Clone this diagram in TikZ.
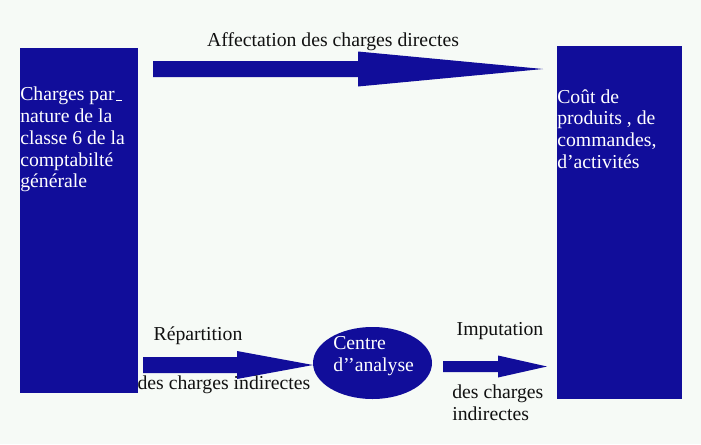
\documentclass[tikz,border=0pt]{standalone}
\usepackage{fontspec}
\setmainfont{Liberation Serif}
\usetikzlibrary{shapes.geometric}
\definecolor{paper}{HTML}{F6FAF6}
\definecolor{navy}{HTML}{110D9A}
\definecolor{ink}{HTML}{111111}
% fat arrow: y centre, x start, x head base, x tip, shaft half, head half
\newcommand{\fatarrow}[6]{%
  \fill[navy] (#2,#1-#5) -- (#3,#1-#5) -- (#3,#1-#6) -- (#4,#1)
    -- (#3,#1+#6) -- (#3,#1+#5) -- (#2,#1+#5) -- cycle;}
\tikzset{
  font=\fontsize{14.8}{16.3}\selectfont,
  %
  pillar/.style={fill=navy, draw=none, inner sep=0pt, anchor=north west},
  hub/.style={ellipse, fill=navy, draw=none, inner sep=0pt,
              minimum width=89.25pt, minimum height=54pt},
  %
  inbox/.style={text=white, align=left, inner sep=0pt, anchor=north west},
  lbl/.style={text=ink, inner sep=0pt},
}
\begin{document}
\begin{tikzpicture}[x=0.75pt, y=-0.75pt]

  \fill[paper] (0,0) rectangle (701,444);
  \useasboundingbox (0,0) rectangle (701,444);

  % --- the two blocks ----------------------------------------------------
  \node[pillar, minimum width=88.5pt, minimum height=258.75pt] (nature) at (20,48) {};
  \node[pillar, minimum width=93.75pt, minimum height=264.75pt] (cout) at (557,46) {};

  \node[inbox] (natxt) at (20,87)
    {Charges par\kern1pt\rule{4.5pt}{0.7pt}\\nature de la\\classe 6 de la\\comptabilté\\générale};
  \node[inbox] (couttxt) at (557,89)
    {Coût de\\produits , de\\commandes,\\d’activités};

  % --- the centre --------------------------------------------------------
  \node[hub] (centre) at (372.5,363) {};
  \node[inbox, anchor=west] (centretxt) at (333,356) {Centre\\d’’analyse};

  % --- the flows ---------------------------------------------------------
  \fatarrow{69}{153}{358}{543}{8}{17.5}
  \fatarrow{365}{143}{237}{313}{8}{14}
  \fatarrow{366.5}{443}{498}{547}{5.5}{11}

  \node[lbl] (direct) at (333,42) {Affectation des charges directes};
  \node[lbl] (repart) at (198,336) {Répartition};
  \node[lbl] (repart2) at (224,385) {des charges indirectes};
  \node[lbl] (imput) at (500,331) {Imputation};
  \node[lbl, align=left, anchor=west] (imput2) at (452,403) {des charges\\indirectes};

\end{tikzpicture}
\end{document}
